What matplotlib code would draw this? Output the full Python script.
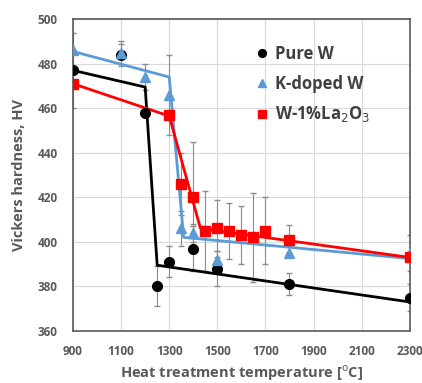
import numpy as np
import matplotlib
matplotlib.use("Agg")
import matplotlib.pyplot as plt

plt.rcParams['font.family'] = ['Open Sans', 'DejaVu Sans']

# measured points
pure_t = [900, 1100, 1200, 1250, 1300, 1400, 1500, 1800, 2300]
pure_hv = [477, 484, 458, 380, 391, 397, 388, 381, 375]
pure_err = [17, 5, 0, 9, 7, 10, 8, 5, 6]

kdop_t = [900, 1100, 1200, 1300, 1350, 1400, 1500, 1800, 2300]
kdop_hv = [486, 485, 474, 466, 406, 404, 392, 395, 395]
kdop_err = [0, 5, 6, 18, 8, 4, 4, 0, 8]

la_t = [900, 1300, 1350, 1400, 1450, 1500, 1550, 1600, 1650, 1700, 1800, 2300]
la_hv = [471, 457, 426, 420, 405, 406, 405, 403, 402, 405, 401, 393]
la_err = [0, 0, 14, 25, 18, 13, 12.5, 13, 20, 15, 6.5, 0]

# trend lines
pure_fit_t = [900, 1200, 1250, 2300]
pure_fit_hv = [477, 469.5, 389.5, 373]
kdop_fit_t = [900, 1300, 1360, 2300]
kdop_fit_hv = [485.5, 474, 402, 392.5]
la_fit_t = [900, 1300, 1430, 2300]
la_fit_hv = [471, 456.5, 406, 393]

black = '#000000'
blue = '#5b9bd5'
red = '#ff0000'
gray = '#595959'

fig = plt.figure(figsize=(4.22, 3.83), dpi=100)
ax = fig.add_axes([0.173, 0.136, 0.798, 0.814])

ax.errorbar(pure_t, pure_hv, yerr=pure_err, fmt='none', ecolor='#8c8c8c', elinewidth=0.8, capsize=2, zorder=2)
ax.errorbar(kdop_t, kdop_hv, yerr=kdop_err, fmt='none', ecolor='#8c8c8c', elinewidth=0.8, capsize=2, zorder=2)
ax.errorbar(la_t, la_hv, yerr=la_err, fmt='none', ecolor='#8c8c8c', elinewidth=0.8, capsize=2, zorder=2)

ax.plot(pure_fit_t, pure_fit_hv, color=black, lw=2, zorder=3)
ax.plot(kdop_fit_t, kdop_fit_hv, color=blue, lw=2, zorder=3)
ax.plot(la_fit_t, la_fit_hv, color=red, lw=2, zorder=3)

ax.plot(pure_t, pure_hv, 'o', color=black, ms=7, ls='none', label='Pure W', zorder=4)
ax.plot(kdop_t, kdop_hv, '^', color=blue, ms=7, ls='none', label='K-doped W', zorder=5)
ax.plot(la_t, la_hv, 's', color=red, ms=7, ls='none', label='W-1%La$_2$O$_3$', zorder=6)

ax.set_xlim(900, 2300)
ax.set_ylim(360, 500)
ax.set_xticks(np.arange(900, 2301, 200))
ax.set_yticks(np.arange(360, 501, 20))
ax.grid(True, color='#d9d9d9', lw=0.8)
ax.set_axisbelow(True)
for s in ax.spines.values():
    s.set_color('#595959')
    s.set_linewidth(1.2)
ax.tick_params(colors=gray, labelsize=8.5, length=0)
ax.tick_params(axis='x', pad=10)
ax.tick_params(axis='y', pad=11)
for lab in ax.get_xticklabels() + ax.get_yticklabels():
    lab.set_fontweight('bold')

ax.set_xlabel('Heat treatment temperature [$^{\\rm o}$C]', fontsize=10.5, color=gray, fontweight='bold', labelpad=4)
ax.set_ylabel('Vickers hardness, HV', fontsize=10.5, color=gray, fontweight='bold', labelpad=8)

leg = ax.legend(loc='upper left', bbox_to_anchor=(0.50, 0.965), frameon=False, fontsize=12,
                handlelength=0.7, handletextpad=0.4, labelspacing=0.7, markerscale=0.8)
for t in leg.get_texts():
    t.set_color('#404040')
    t.set_fontweight('bold')

fig.savefig('out.png', dpi=100)
